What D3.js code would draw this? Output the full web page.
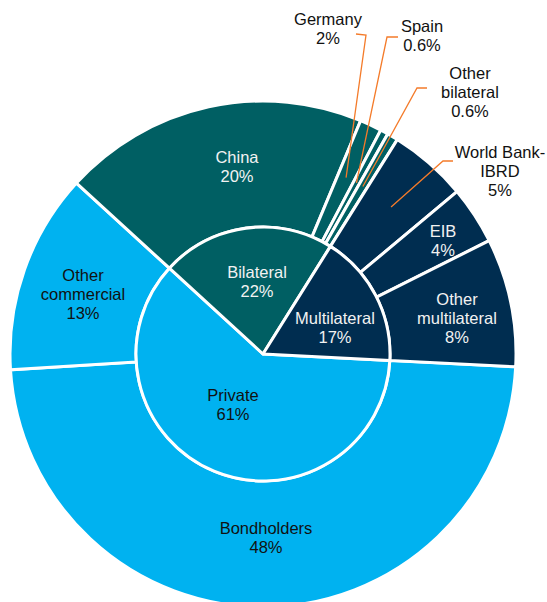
<!DOCTYPE html>
<html><head><meta charset="utf-8">
<script src="https://cdn.jsdelivr.net/npm/d3@7"></script>
<style>body{margin:0;background:#fff} svg{display:block}</style>
</head><body>
<svg id="c" width="547" height="602"></svg>
<script>
// ---- data ----
const groupNames = ["Private", "Bilateral", "Multilateral"];
const groupLabels = ["61%", "22%", "17%"];

const privateNames = ["Bondholders", "Other commercial"];
const privateValues = [48.2, 12.8];
const privateLabels = ["48%", "13%"];

const bilateralNames = ["China", "Germany", "Spain", "Other bilateral"];
const bilateralValues = [19.5, 1.4, 0.5, 0.7];
const bilateralLabels = ["20%", "2%", "0.6%", "0.6%"];

const multilateralNames = ["World Bank-IBRD", "EIB", "Other multilateral"];
const multilateralValues = [5.0, 3.7, 8.2];
const multilateralLabels = ["5%", "4%", "8%"];

// ---- layout / style ----
const W = 547, H = 602;
const cx = 263, cy = 354;
const rInner = 127, rOuter = 253;
const startDeg = 92.9;
const colors = { "Private": "#00B2F0", "Bilateral": "#005F63", "Multilateral": "#002D50" };
const textDark = "#111", textLight = "#f2f2f2";
const FONT = "'Liberation Sans', Arial, sans-serif";
const FS = 16.5, LH = 19;

// label placement (centre x, first baseline y), in page pixels
const labelPos = {
  "Private": [233, 401], "Bilateral": [257, 278], "Multilateral": [335, 324],
  "Bondholders": [266, 534], "Other commercial": [83, 281],
  "China": [237, 163], "Germany": [328, 25], "Spain": [422, 32], "Other bilateral": [470, 79],
  "World Bank-IBRD": [500, 158], "EIB": [443, 237], "Other multilateral": [457, 305]
};
const labelLines = {
  "Other commercial": ["Other", "commercial"],
  "Other bilateral": ["Other", "bilateral"],
  "World Bank-IBRD": ["World Bank-", "IBRD"],
  "Other multilateral": ["Other", "multilateral"]
};
// leader lines: label-side start and elbow (page px), end = wedge centroid
const leaders = {
  "Germany": [[356, 34], [366, 35]],
  "Spain": [[398, 37], [387, 37]],
  "Other bilateral": [[427, 88], [417, 88]],
  "World Bank-IBRD": [[453, 161], [443, 161]]
};

const childSets = {
  "Private": { names: privateNames, values: privateValues, labels: privateLabels },
  "Bilateral": { names: bilateralNames, values: bilateralValues, labels: bilateralLabels },
  "Multilateral": { names: multilateralNames, values: multilateralValues, labels: multilateralLabels }
};

const svg = d3.select("#c");
const g = svg.append("g").attr("transform", `translate(${cx},${cy})`);
const toRad = d => d * Math.PI / 180;

const groupValues = groupNames.map(n => d3.sum(childSets[n].values));
const pieInner = d3.pie().sort(null).value(d => d.value)
  .startAngle(toRad(startDeg)).endAngle(toRad(startDeg) + 2 * Math.PI);
const innerArcs = pieInner(groupNames.map((n, i) => ({ name: n, value: groupValues[i], label: groupLabels[i] })));

const outerArcs = [];
innerArcs.forEach(a => {
  const cs = childSets[a.data.name];
  const p = d3.pie().sort(null).value(d => d.value).startAngle(a.startAngle).endAngle(a.endAngle);
  p(cs.names.map((n, i) => ({ name: n, value: cs.values[i], label: cs.labels[i], group: a.data.name })))
    .forEach(o => outerArcs.push(o));
});

const arcIn = d3.arc().innerRadius(0).outerRadius(rInner);
const arcOut = d3.arc().innerRadius(rInner).outerRadius(rOuter);

g.selectAll("path.out").data(outerArcs).join("path").attr("class", "out")
  .attr("d", arcOut).attr("fill", d => colors[d.data.group])
  .attr("stroke", "#fff").attr("stroke-width", 3).attr("stroke-linejoin", "miter");
g.selectAll("path.in").data(innerArcs).join("path").attr("class", "in")
  .attr("d", arcIn).attr("fill", d => colors[d.data.name])
  .attr("stroke", "#fff").attr("stroke-width", 3).attr("stroke-linejoin", "round");

// leader lines
const lineGen = d3.line();
outerArcs.filter(d => leaders[d.data.name]).forEach(d => {
  const mid = (d.startAngle + d.endAngle) / 2, r = 195;
  const end = [cx + r * Math.sin(mid), cy - r * Math.cos(mid)];
  const pts = leaders[d.data.name].concat([end]);
  svg.append("path").attr("d", lineGen(pts)).attr("fill", "none")
    .attr("stroke", "#F47B2A").attr("stroke-width", 1.3);
});

function drawLabel(name, pct, color) {
  const pos = labelPos[name];
  const lines = (labelLines[name] || [name]).concat([pct]);
  const t = svg.append("text").attr("text-anchor", "middle")
    .attr("font-family", FONT).attr("font-size", FS).attr("fill", color);
  lines.forEach((l, i) => t.append("tspan").attr("x", pos[0]).attr("y", pos[1] + i * LH).text(l));
}
const outsideNames = ["Germany", "Spain", "Other bilateral", "World Bank-IBRD"];
innerArcs.forEach(d => drawLabel(d.data.name, d.data.label, d.data.name === "Private" ? textDark : textLight));
outerArcs.forEach(d => {
  const name = d.data.name;
  let col = d.data.group === "Private" ? textDark : textLight;
  if (outsideNames.includes(name)) col = textDark;
  drawLabel(name, d.data.label, col);
});
</script>
</body></html>
